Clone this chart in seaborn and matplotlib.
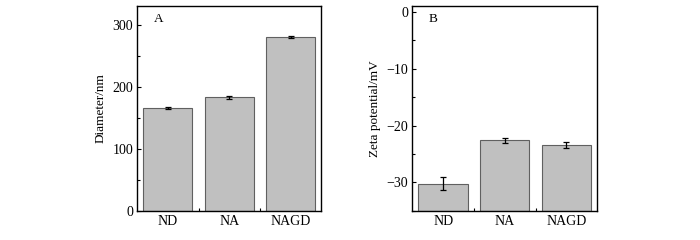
import numpy as np
import pandas as pd
import matplotlib
matplotlib.use("Agg")
import matplotlib.pyplot as plt
import seaborn as sns
from matplotlib.ticker import MultipleLocator, FixedLocator

# data
samples = ["ND", "NA", "NAGD"]
diameter = [166, 183, 280]
diameter_err = [2, 2.5, 1.5]
zeta = [-30.2, -22.6, -23.4]
zeta_err = [1.1, 0.5, 0.6]

sns.set_theme(style="ticks")
plt.rcParams["font.family"] = ["Liberation Serif", "DejaVu Serif"]
plt.rcParams["font.size"] = 10
plt.rcParams["text.color"] = "black"
plt.rcParams["axes.labelcolor"] = "black"
plt.rcParams["xtick.color"] = "black"
plt.rcParams["ytick.color"] = "black"

fig = plt.figure(figsize=(7, 2.4), dpi=100)
axA = fig.add_axes([0.196, 0.121, 0.263, 0.854])
axB = fig.add_axes([0.589, 0.121, 0.264, 0.854])

bar_kw = dict(color="#c0c0c0", edgecolor="#606060", linewidth=0.8, width=0.8)
err_kw = dict(fmt="none", ecolor="black", elinewidth=0.9, capsize=2, capthick=0.9)

# panel A - diameter
dfA = pd.DataFrame({"sample": samples, "value": diameter})
sns.barplot(data=dfA, x="sample", y="value", ax=axA, **bar_kw)
axA.errorbar(range(len(samples)), diameter, yerr=diameter_err, **err_kw)
axA.set_ylim(0, 330)
axA.set_xlim(-0.5, 2.5)
axA.yaxis.set_major_locator(MultipleLocator(100))
axA.yaxis.set_minor_locator(MultipleLocator(50))
axA.set_ylabel("Diameter/nm", fontsize=9.5)
axA.set_xlabel("")
axA.text(0.09, 0.92, "A", transform=axA.transAxes, fontsize=9.5)

# panel B - zeta potential, bars drawn up from the bottom of the axis
base = -35
dfB = pd.DataFrame({"sample": samples, "value": [z - base for z in zeta]})
sns.barplot(data=dfB, x="sample", y="value", ax=axB, bottom=base, **bar_kw)
axB.errorbar(range(len(samples)), zeta, yerr=zeta_err, **err_kw)
axB.set_ylim(-35, 1)
axB.set_xlim(-0.5, 2.5)
axB.yaxis.set_minor_locator(MultipleLocator(5))
axB.set_yticks([0, -10, -20, -30])
axB.set_yticklabels(["0", "\u221210", "\u221220", "\u221230"])
axB.set_ylabel("Zeta potential/mV", fontsize=9.5)
axB.set_xlabel("")
axB.text(0.09, 0.92, "B", transform=axB.transAxes, fontsize=9.5)

for ax in (axA, axB):
    for s in ax.spines.values():
        s.set_linewidth(1.0)
        s.set_color("black")
    ax.xaxis.set_minor_locator(FixedLocator([0.5, 1.5]))
    ax.tick_params(which="major", direction="in", length=3, width=0.8,
                   labelsize=10, pad=3)
    ax.tick_params(which="minor", direction="in", length=2, width=0.8)
    ax.tick_params(axis="x", which="both", top=False)
    ax.tick_params(axis="y", which="both", right=False)

fig.savefig("out.png", dpi=100)
